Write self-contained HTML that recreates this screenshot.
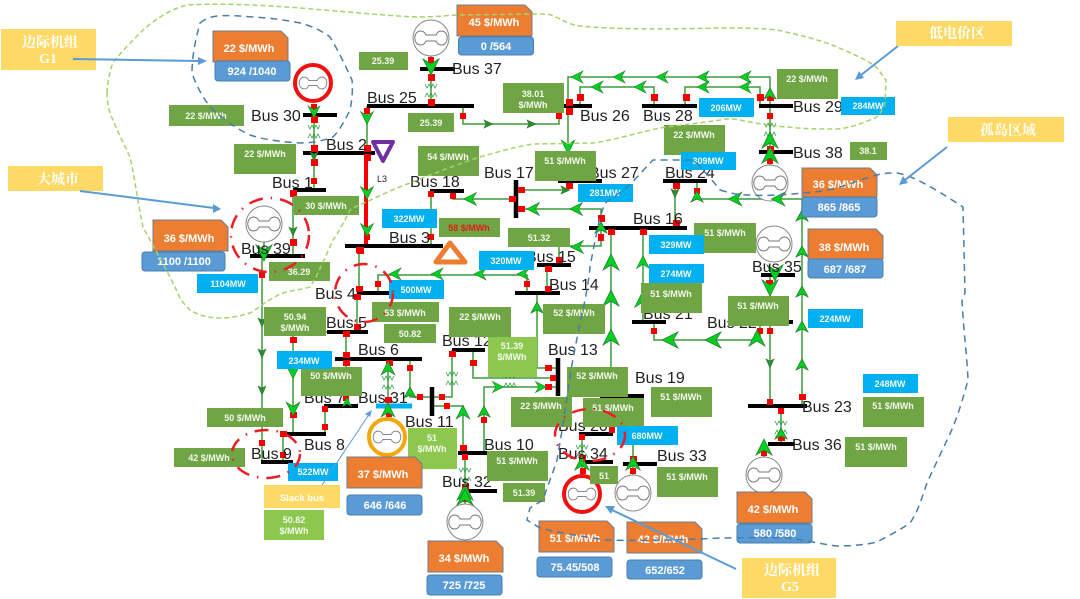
<!DOCTYPE html>
<html>
<head>
<meta charset="utf-8">
<style>
html,body{margin:0;padding:0;background:#fff;width:1080px;height:599px;overflow:hidden}
svg{display:block;filter:blur(.35px)}
.bus text{font:16px "Liberation Sans",sans-serif;fill:#222}
.bx text{font:bold 9px "Liberation Sans",sans-serif;fill:#f4f8ee;text-anchor:middle}
.pr text{font:bold 11px "Liberation Sans",sans-serif;fill:#fff;text-anchor:middle}
.yl text{font:bold 14px "Liberation Serif","Noto Serif CJK SC",serif;fill:#fff;text-anchor:middle}
</style>
</head>
<body>
<svg xmlns="http://www.w3.org/2000/svg" width="1080" height="599" viewBox="0 0 1080 599">
<defs>
<g id="u"><polygon points="0,-8 8,8 0,3 -8,8" fill="#00d020" stroke="#2e7d32" stroke-width=".8"/></g>
<g id="d"><polygon points="0,8 8,-8 0,-3 -8,-8" fill="#00d020" stroke="#2e7d32" stroke-width=".8"/></g>
<g id="l"><polygon points="-8,0 8,-8 3,0 8,8" fill="#00d020" stroke="#2e7d32" stroke-width=".8"/></g>
<g id="r"><polygon points="8,0 -8,-8 -3,0 -8,8" fill="#00d020" stroke="#2e7d32" stroke-width=".8"/></g>
<g id="su"><polygon points="0,-6 6,5 0,2 -6,5" fill="#00d020" stroke="#2e7d32" stroke-width=".8"/></g>
<g id="sd"><polygon points="0,5 4,-4 0,-2 -4,-4" fill="#2e8b2e" stroke="#2e7d32" stroke-width=".6"/></g>
<g id="sr"><polygon points="5,0 -4,-4 -2,0 -4,4" fill="#2e8b2e" stroke="#2e7d32" stroke-width=".6"/></g>
<g id="c"><path d="M-6,-4l2,4 2,-4 2,4 2,-4 2,4 2,-4M-6,9l2,-4 2,4 2,-4 2,4 2,-4 2,4" fill="none" stroke="#2f9e44" stroke-width=".8"/></g>
<g id="gn"><path d="M-11,-7c-7,1-7,13 0,14c4,0 5,-2 6,-4h10c1,2 2,4 6,4c7,-1 7,-13 0,-14c-4,0-5,2-6,4h-10c-1,-2-2,-4-6,-4z" fill="none" stroke="#777" stroke-width="1"/></g>
<g id="g"><circle r="18" fill="#fff" stroke="#888" stroke-width="1"/><use href="#gn"/></g>
</defs>
<rect width="1080" height="599" fill="#fff"/>

<!-- connectors -->
<g fill="none" stroke="#3b9a3b" stroke-width="1.5">
<path d="M314 115V190M293 190V256M264 242V256M262 256V462H293M367 106V153M431 56V106"/>
<path d="M463 106V124H559V106M568 181V77H770V152M770 152V165M580 106V87H654V106M685 106V87H760V106"/>
<path d="M452 199H516M431 191V246M521 190H568V181M601 228V209H516M601 228V246H559V265M547 265V293M527 293V275H378V293"/>
<path d="M675 181V228M697 181V199H802M611 228V396M643 228V322M654 322V340H760V322M770 275V406M802 406V199M781 406V444M764 444V457"/>
<path d="M359 246V293M357 293V332M346 332V406M293 332V434M293 332H327M325 406V434M283 434V462M388 359V419M410 359V397H432M432 397H452V350M432 406H463V453M473 350V378H558M484 453V387H558M537 293V368H558M465 453V504M611 396V434M633 396V476M582 434V476"/>
</g>
<path d="M366 153V246" stroke="#fa0000" stroke-width="4" fill="none"/>

<!-- coils -->
<use href="#c" x="314" y="129"/><use href="#c" x="431" y="88"/><use href="#c" x="770" y="127"/><use href="#c" x="388" y="380"/><use href="#c" x="452" y="376"/><use href="#c" x="465" y="472"/><use href="#c" x="582" y="449"/><use href="#c" x="781" y="425"/><use href="#c" x="510" y="378"/>

<!-- generators -->
<use href="#g" x="264" y="224"/><use href="#g" x="431" y="38"/><use href="#g" x="770" y="183"/><use href="#g" x="774" y="244"/><use href="#g" x="764" y="475"/><use href="#g" x="465" y="522"/><use href="#g" x="633" y="493"/>
<circle cx="313" cy="83" r="18" fill="#fff" stroke="#f01010" stroke-width="4"/><use href="#gn" transform="translate(313 83) scale(.85)"/>
<circle cx="582" cy="494" r="18" fill="#fff" stroke="#f01010" stroke-width="4"/><use href="#gn" transform="translate(582 494) scale(.85)"/>
<circle cx="387" cy="437" r="18" fill="#fff" stroke="#f0a80a" stroke-width="4"/><use href="#gn" transform="translate(387 437) scale(.85)"/>

<!-- buses -->
<g stroke="#000" stroke-width="4" fill="none">
<path d="M303 115H337M303 153H375M293 190H326M250 256H305M420 69H455M367 106H474M564 106H592M642 106H697M759 106H793M759 152H793M430 191H464M558 181H602M663 181H707M589 228H687M345 246H443M537 265H571M515 293H560M357 293H390M327 332H368M335 359H422M324 406H358M283 434H326M261 462H293M452 350H485M458 453H487M463 491H497M600 396H644M579 434H613M582 462H613M623 464H657M632 322H666M747 322H793M761 275H795M748 406H807M768 444H795"/>
<path d="M516 180V218M432 387V416M558 358V396" stroke-width="4.5"/>
</g>
<path d="M376 406H412" stroke="#00b0f0" stroke-width="5"/>

<!-- red squares -->
<path fill="#f40000" d="M311 104h6v6h-6zM311 116h7v7h-7zM311 145h7v7h-7zM311 159h7v7h-7zM311 178h6v6h-6zM290 190h7v7h-7zM290 239h7v7h-7zM259 272h6v6h-6zM428 57h6v6h-6zM428 74h7v7h-7zM428 99h7v7h-7zM364 108h6v6h-6zM364 154h7v7h-7zM364 145h7v7h-7zM364 234h6v6h-6zM357 247h7v7h-7zM460 113h6v6h-6zM556 113h6v6h-6zM566 99h7v7h-7zM566 108h7v7h-7zM577 94h7v7h-7zM651 94h7v7h-7zM683 94h7v7h-7zM757 94h7v7h-7zM767 94h7v7h-7zM767 113h6v6h-6zM767 146h7v7h-7zM767 158h6v6h-6zM766 280h7v7h-7zM428 191h6v6h-6zM428 234h6v6h-6zM450 193h6v6h-6zM518 187h7v6h-7zM509 196h7v6h-7zM518 206h7v6h-7zM566 183h7v6h-7zM598 215h7v7h-7zM598 234h6v7h-6zM608 229h7v6h-7zM640 229h7v6h-7zM673 220h7v6h-7zM673 183h7v6h-7zM694 188h6v6h-6zM556 257h7v6h-7zM545 266h7v6h-7zM545 286h7v6h-7zM524 281h6v6h-6zM375 281h6v6h-6zM356 247h7v6h-7zM356 286h7v6h-7zM354 294h7v6h-7zM354 324h7v6h-7zM343 331h7v6h-7zM290 337h7v6h-7zM343 352h7v6h-7zM343 360h7v6h-7zM386 360h7v6h-7zM407 365h6v6h-6zM449 351h7v6h-7zM470 360h7v6h-7zM343 395h6v6h-6zM322 406h6v6h-6zM322 424h6v6h-6zM290 412h7v6h-7zM280 431h7v6h-7zM259 440h6v6h-6zM280 452h6v6h-6zM385 397h7v6h-7zM386 411h6v6h-6zM417 394h6v6h-6zM439 394h6v6h-6zM444 403h6v6h-6zM460 445h7v6h-7zM462 454h6v6h-6zM462 484h7v6h-7zM463 496h6v6h-6zM481 417h6v6h-6zM545 365h7v6h-7zM550 375h6v6h-6zM545 384h7v6h-7zM609 427h6v6h-6zM579 434h6v6h-6zM579 455h7v6h-7zM580 468h6v6h-6zM630 456h7v6h-7zM630 468h6v6h-6zM651 328h6v6h-6zM757 328h6v6h-6zM767 328h6v6h-6zM767 399h6v6h-6zM778 408h6v6h-6zM799 394h7v6h-7zM778 435h7v6h-7zM761 450h6v6h-6z"/>

<!-- flow arrows -->
<use href="#d" x="264" y="253"/><use href="#d" transform="translate(314 112) scale(.75)"/><use href="#sd" x="314" y="156"/><use href="#sd" x="293" y="231"/>
<use href="#d" x="431" y="67"/><use href="#d" transform="translate(367 118) scale(.8)"/><use href="#d" transform="translate(367 193) scale(.8)"/><use href="#d" transform="translate(367 230) scale(.8)"/><use href="#d" transform="translate(568 147) scale(.85)"/>
<use href="#l" transform="translate(577 77) scale(.75)"/><use href="#l" transform="translate(619 77) scale(.75)"/><use href="#l" transform="translate(662 77) scale(.75)"/><use href="#l" transform="translate(703 77) scale(.75)"/><use href="#l" transform="translate(745 77) scale(.75)"/>
<use href="#l" transform="translate(597 87) scale(.75)"/><use href="#l" transform="translate(640 87) scale(.75)"/><use href="#l" transform="translate(703 87) scale(.75)"/><use href="#l" transform="translate(745 87) scale(.75)"/>
<use href="#sr" x="488" y="124"/><use href="#sr" x="531" y="124"/><use href="#sr" x="565" y="190"/>
<use href="#l" transform="translate(470 199) scale(.8)"/><use href="#l" transform="translate(533 209) scale(.8)"/><use href="#l" transform="translate(576 209) scale(.8)"/><use href="#l" transform="translate(577 247) scale(.8)"/>
<use href="#l" transform="translate(395 274) scale(.75)"/><use href="#l" transform="translate(437 274) scale(.75)"/><use href="#l" transform="translate(480 274) scale(.75)"/><use href="#l" transform="translate(523 274) scale(.75)"/>
<use href="#u" x="611" y="262"/><use href="#u" x="611" y="298"/><use href="#u" x="611" y="337"/><use href="#u" transform="translate(643 262) scale(.8)"/><use href="#u" transform="translate(641 301) scale(.8)"/><use href="#su" x="601" y="228"/>
<use href="#su" x="697" y="197"/><use href="#sd" x="675" y="193"/><use href="#l" transform="translate(735 199) scale(.85)"/><use href="#l" transform="translate(778 199) scale(.85)"/>
<use href="#su" x="802" y="216"/><use href="#su" x="802" y="252"/><use href="#su" x="802" y="292"/><use href="#su" x="802" y="327"/><use href="#su" x="802" y="365"/>
<use href="#u" x="770" y="140"/><use href="#u" x="770" y="155"/><use href="#su" x="770" y="94"/>
<use href="#d" x="775" y="273"/><use href="#d" x="770" y="288"/>
<use href="#l" x="670" y="340"/><use href="#l" x="713" y="340"/><use href="#u" x="757" y="338"/><use href="#sd" x="770" y="363"/>
<use href="#d" transform="translate(293 372) scale(.85)"/><use href="#d" transform="translate(293 409) scale(.85)"/><use href="#u" transform="translate(347 402) scale(.6)"/><use href="#u" transform="translate(388 368) scale(.85)"/><use href="#u" transform="translate(388 410) scale(.85)"/><use href="#su" x="410" y="393"/>
<use href="#u" transform="translate(463 412) scale(.85)"/><use href="#su" x="484" y="412"/><use href="#r" transform="translate(498 387) scale(.7)"/><use href="#r" transform="translate(541 387) scale(.7)"/><use href="#su" x="537" y="308"/>
<use href="#u" x="465" y="492"/><use href="#u" x="465" y="497"/><use href="#u" transform="translate(582 463) scale(.9)"/><use href="#u" transform="translate(633 463) scale(.9)"/><use href="#u" x="764" y="447"/><use href="#su" x="781" y="434"/>
<use href="#sd" x="262" y="322"/><use href="#sd" x="262" y="353"/><use href="#sd" x="262" y="390"/>

<!-- bus labels -->
<g class="bus">
<text x="251" y="121">Bus 30</text><text x="326" y="150">Bus 2</text><text x="272" y="188">Bus 1</text><text x="241" y="254">Bus 39</text><text x="452" y="74">Bus 37</text><text x="367" y="103">Bus 25</text><text x="580" y="121">Bus 26</text><text x="643" y="121">Bus 28</text><text x="793" y="112">Bus 29</text><text x="793" y="158">Bus 38</text><text x="410" y="187">Bus 18</text><text x="484" y="178">Bus 17</text><text x="589" y="178">Bus 27</text><text x="665" y="178">Bus 24</text><text x="633" y="224">Bus 16</text><text x="389" y="243">Bus 3</text><text x="526" y="262">Bus 15</text><text x="549" y="290">Bus 14</text><text x="315" y="299">Bus 4</text><text x="326" y="328">Bus 5</text><text x="358" y="355">Bus 6</text><text x="304" y="403">Bus 7</text><text x="358" y="403">Bus 31</text><text x="304" y="450">Bus 8</text><text x="251" y="459">Bus 9</text><text x="405" y="427">Bus 11</text><text x="442" y="346">Bus 12</text><text x="548" y="355">Bus 13</text><text x="484" y="450">Bus 10</text><text x="442" y="487">Bus 32</text><text x="635" y="383">Bus 19</text><text x="558" y="431">Bus 20</text><text x="558" y="459">Bus 34</text><text x="657" y="461">Bus 33</text><text x="643" y="319">Bus 21</text><text x="707" y="328">Bus 22</text><text x="752" y="272">Bus 35</text><text x="802" y="412">Bus 23</text><text x="792" y="450">Bus 36</text>
<text x="377" y="182" style="font-size:9px">L3</text>
</g>

<!-- green boxes -->
<g class="bx">
<g fill="#6fa544">
<rect x="169" y="105" width="75" height="21"/><rect x="234" y="144" width="62" height="30"/><rect x="294" y="196" width="65" height="19"/><rect x="269" y="262" width="61" height="19"/><rect x="359" y="52" width="49" height="18"/><rect x="408" y="113" width="46" height="19"/><rect x="503" y="83" width="61" height="30"/><rect x="418" y="146" width="61" height="30"/><rect x="535" y="151" width="61" height="30"/><rect x="439" y="218" width="61" height="19"/><rect x="508" y="228" width="62" height="19"/><rect x="664" y="125" width="61" height="30"/><rect x="777" y="69" width="61" height="30"/><rect x="850" y="142" width="37" height="18"/><rect x="694" y="223" width="62" height="30"/><rect x="641" y="283" width="61" height="30"/><rect x="728" y="296" width="61" height="30"/><rect x="543" y="304" width="62" height="30"/><rect x="449" y="307" width="62" height="30"/><rect x="567" y="367" width="61" height="30"/><rect x="511" y="397" width="61" height="30"/><rect x="583" y="398" width="61" height="29"/><rect x="651" y="387" width="61" height="30"/><rect x="487" y="451" width="61" height="30"/><rect x="503" y="483" width="42" height="19"/><rect x="590" y="466" width="28" height="18"/><rect x="657" y="467" width="61" height="30"/><rect x="863" y="397" width="61" height="30"/><rect x="845" y="437" width="62" height="30"/><rect x="264" y="307" width="62" height="29"/><rect x="372" y="302" width="67" height="20"/><rect x="384" y="324" width="52" height="19"/><rect x="301" y="367" width="61" height="29"/><rect x="207" y="408" width="76" height="19"/><rect x="174" y="448" width="71" height="19"/>
</g>
<g fill="#8cc84e"><rect x="488" y="337" width="49" height="40"/><rect x="408" y="428" width="49" height="41"/><rect x="264" y="510" width="60" height="30"/></g>
<g fill="#00b0f0">
<rect x="197" y="274" width="61" height="19"/><rect x="382" y="209" width="55" height="19"/><rect x="479" y="251" width="55" height="19"/><rect x="389" y="280" width="55" height="19"/><rect x="578" y="184" width="55" height="18"/><rect x="699" y="98" width="55" height="19"/><rect x="681" y="152" width="55" height="18"/><rect x="841" y="97" width="54" height="18"/><rect x="649" y="235" width="55" height="19"/><rect x="649" y="264" width="55" height="19"/><rect x="808" y="309" width="55" height="19"/><rect x="863" y="374" width="55" height="19"/><rect x="277" y="351" width="55" height="18"/><rect x="288" y="463" width="50" height="18"/><rect x="617" y="426" width="61" height="19"/>
</g>
<text x="206" y="119">22 $/MWh</text><text x="265" y="157">22 $/MWh</text><text x="326" y="209">30 $/MWh</text><text x="299" y="275">36.29</text><text x="383" y="64">25.39</text><text x="431" y="126">25.39</text><text x="533" y="97">38.01</text><text x="533" y="108">$/MWh</text><text x="448" y="160">54 $/MWh</text><text x="565" y="164">51 $/MWh</text><text x="469" y="231" style="fill:#e02010">58 $/MWh</text><text x="539" y="241">51.32</text><text x="694" y="138">22 $/MWh</text><text x="807" y="82">22 $/MWh</text><text x="868" y="154">38.1</text><text x="725" y="236">51 $/MWh</text><text x="671" y="297">51 $/MWh</text><text x="758" y="309">51 $/MWh</text><text x="574" y="316">52 $/MWh</text><text x="480" y="320">22 $/MWh</text><text x="597" y="379">52 $/MWh</text><text x="541" y="409">22 $/MWh</text><text x="613" y="411">51 $/MWh</text><text x="681" y="400">51 $/MWh</text><text x="517" y="464">51 $/MWh</text><text x="524" y="496">51.39</text><text x="604" y="479">51</text><text x="687" y="480">51 $/MWh</text><text x="893" y="409">51 $/MWh</text><text x="876" y="450">51 $/MWh</text><text x="295" y="320">50.94</text><text x="295" y="331">$/MWh</text><text x="405" y="316">53 $/MWh</text><text x="410" y="337">50.82</text><text x="331" y="379">50 $/MWh</text><text x="245" y="421">50 $/MWh</text><text x="209" y="461">42 $/MWh</text>
<text x="512" y="349">51.39</text><text x="512" y="360">$/MWh</text><text x="432" y="441">51</text><text x="432" y="452">$/MWh</text><text x="294" y="523">50.82</text><text x="294" y="534">$/MWh</text>
<text x="228" y="287">1104MW</text><text x="409" y="222">322MW</text><text x="506" y="264">320MW</text><text x="416" y="293">500MW</text><text x="605" y="196">281MW</text><text x="726" y="111">206MW</text><text x="708" y="164">309MW</text><text x="868" y="109">284MW</text><text x="676" y="248">329MW</text><text x="676" y="277">274MW</text><text x="835" y="322">224MW</text><text x="890" y="387">248MW</text><text x="304" y="364">234MW</text><text x="313" y="475">522MW</text><text x="647" y="439">680MW</text>
</g>

<!-- price and capacity boxes -->
<g class="pr">
<g fill="#ed7d31" stroke="#6c7c8c" stroke-width="1">
<path d="M213 31h68l7 7v24h-75z"/><path d="M457 5h68l7 7v24h-75z"/><path d="M153 220h68l7 7v24h-75z"/><path d="M802 168h68l7 7v22h-75z"/><path d="M808 229h68l7 7v23h-75z"/><path d="M347 457h68l7 7v24h-75z"/><path d="M428 541h68l7 7v24h-75z"/><path d="M539 521h68l7 7v24h-75z"/><path d="M627 522h68l7 7v24h-75z"/><path d="M737 492h68l7 7v24h-75z"/>
</g>
<g fill="#5b9bd5" stroke="#4a7fb0" stroke-width="1">
<rect x="215" y="61" width="75" height="20" rx="3"/><rect x="458.500" y="37" width="75" height="18" rx="3"/><rect x="142" y="252" width="83" height="19" rx="3"/><rect x="802" y="197" width="75" height="20" rx="3"/><rect x="808" y="259" width="75" height="19" rx="3"/><rect x="347" y="495" width="75" height="20" rx="3"/><rect x="427" y="575" width="75" height="20" rx="3"/><rect x="537" y="557" width="75" height="20" rx="3"/><rect x="627" y="560" width="75" height="19" rx="3"/><rect x="737" y="524" width="75" height="19" rx="3"/>
</g>
<text x="249" y="52">22 $/MWh</text><text x="494" y="26">45 $/MWh</text><text x="189" y="242">36 $/MWh</text><text x="838" y="188">36 $/MWh</text><text x="844" y="251">38 $/MWh</text><text x="383" y="478">37 $/MWh</text><text x="464" y="562">34 $/MWh</text><text x="575" y="542">51 $/MWh</text><text x="663" y="543">42 $/MWh</text><text x="773" y="513">42 $/MWh</text>
<text x="252" y="75">924 /1040</text><text x="496" y="50">0 /564</text><text x="184" y="265">1100 /1100</text><text x="839" y="211">865 /865</text><text x="845" y="273">687 /687</text><text x="385" y="509">646 /646</text><text x="464" y="589">725 /725</text><text x="575" y="571">75.45/508</text><text x="665" y="574">652/652</text><text x="775" y="537">580 /580</text>
</g>

<!-- yellow callouts -->
<g class="yl">
<g fill="#ffd966"><rect x="1" y="29" width="95" height="41"/><rect x="8" y="166" width="95" height="25"/><rect x="896" y="21" width="116" height="25"/><rect x="948" y="117" width="116" height="25"/><rect x="264" y="485" width="76" height="23"/><rect x="742" y="558" width="94" height="40"/></g>
<text x="50" y="47">边际机组</text><text x="48" y="63">G1</text><text x="58" y="184">大城市</text><text x="957" y="38">低电价区</text><text x="1008" y="135">孤岛区域</text><text x="302" y="501" style="font:bold 9.500px 'Liberation Sans',sans-serif">Slack bus</text><text x="792" y="575">边际机组</text><text x="790" y="591">G5</text>
</g>

<!-- dashed regions -->
<path fill="none" stroke="#a5d36a" stroke-width="1.500" stroke-dasharray="5 3" d="M107 93C108 75 113 60 115 60C125 48 135 38 143 30C160 15 175 8 187 5C240 2 300 8 360 13C385 15 405 17 427 17L457 15L547 14C560 17 565 24 580 26C620 30 680 29 720 28C740 28 760 28 777 30C800 35 820 40 837 47C855 55 868 60 877 68L886 80L885 103C882 110 880 115 875 118C860 124 850 128 837 129C820 129 805 129 787 127C770 126 755 123 740 120C730 118 725 119 720 120C700 123 680 125 660 128C640 132 615 140 593 143L533 144C515 147 497 152 480 157C455 165 430 175 410 183C390 190 372 200 357 206L350 210C345 220 340 230 333 240C326 255 318 275 310 287C300 290 292 290 283 293C270 298 260 307 250 313C240 316 230 318 220 318C208 318 198 315 190 310C186 306 183 303 180 298C170 275 155 250 143 227C138 205 135 178 130 157C122 140 116 128 110 113C108 105 107 100 107 93Z"/>
<path fill="none" stroke="#4a7ea8" stroke-width="1.500" stroke-dasharray="7 5" d="M200 23C205 19 210 17 217 16C230 15 240 16 253 17C270 18 285 20 300 23C312 26 322 31 330 37C338 50 345 65 352 80C353 90 352 100 350 110C345 120 340 130 333 137C322 141 312 143 300 143C283 142 265 140 250 135C235 128 222 118 210 107C202 96 196 85 192 73C192 55 196 38 200 23Z"/>
<path fill="none" stroke="#4a7ea8" stroke-width="1.500" stroke-dasharray="7 5" d="M720 190C730 193 738 195 747 195C765 196 785 195 803 193C815 192 826 191 837 188C850 184 865 178 877 175C884 173 890 173 897 173C908 175 918 180 927 185C940 192 952 200 963 207L965 293L962 300C963 325 967 355 968 380C964 395 959 412 953 427C945 445 935 465 927 483C922 497 918 512 910 523C900 530 888 536 877 542C865 545 850 546 837 546C820 544 805 540 787 538C765 537 742 538 720 538C680 540 645 541 607 540C585 537 560 533 540 528L527 520L530 508L543 500C547 487 553 473 557 460C562 432 566 405 570 377C574 350 580 325 585 300C587 290 589 278 590 267C593 250 597 232 600 217L605 203C612 198 620 193 627 187C637 178 645 168 653 160H693C702 168 712 180 720 190Z"/>

<!-- red dash-dot circles -->
<g fill="none" stroke="#ee1c25" stroke-width="2.500" stroke-dasharray="14 8 1.500 8">
<ellipse cx="270" cy="235" rx="39" ry="37"/><ellipse cx="364" cy="293" rx="29" ry="29"/><ellipse cx="266" cy="454" rx="34" ry="24"/><ellipse cx="590" cy="435" rx="35" ry="26"/>
</g>

<!-- triangles -->
<path d="M373 142H393L383 161Z" fill="none" stroke="#7030a0" stroke-width="4" stroke-linejoin="round"/>
<path d="M436 262L450 243L465 262Z" fill="none" stroke="#ed7d31" stroke-width="5" stroke-linejoin="round"/>

<!-- callout arrows -->
<g stroke="#5b9bd5" stroke-width="2" fill="#5b9bd5">
<path d="M73 59L200 61" fill="none"/><path d="M207 61l-9-4v8z" stroke="none"/>
<path d="M80 191L214 208" fill="none"/><path d="M221 209l-8-5v9z" stroke="none"/>
<path d="M898 46L861 75" fill="none"/><path d="M855 80l9-2-5-7z" stroke="none"/>
<path d="M947 147L905 180" fill="none"/><path d="M899 185l9-2-5-7z" stroke="none"/>
<path d="M736 569L612 510" fill="none"/><path d="M605 506l6 8 4-8z" stroke="none"/>
<path d="M322 485L368 416" fill="none" stroke-width="1"/><path d="M372 410l-7 4 5 3z" stroke="none"/>
</g>
</svg>
</body>
</html>
